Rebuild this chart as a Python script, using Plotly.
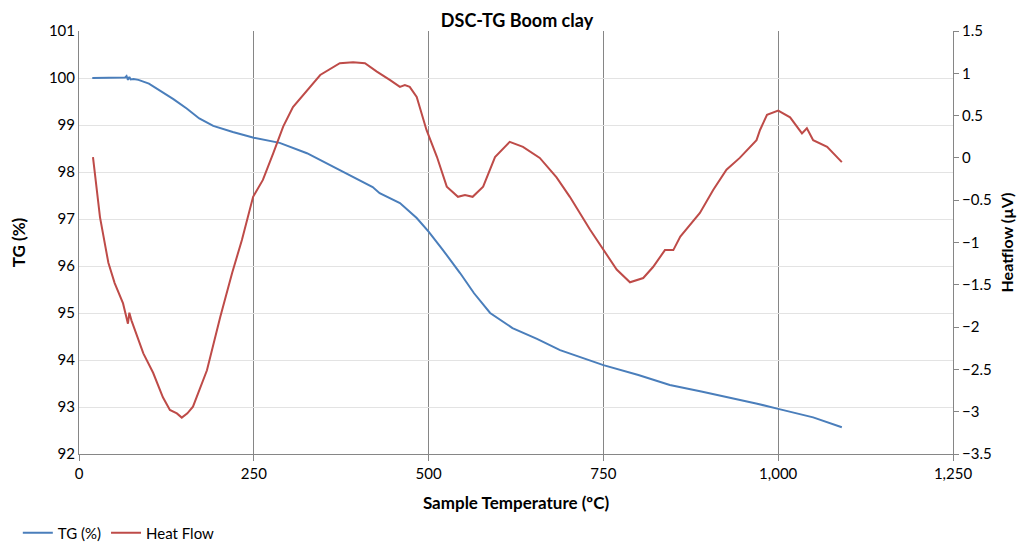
import plotly.graph_objects as go

# TG curve (left axis, %)
tg_temp = [19, 40, 60, 66, 68, 70, 72, 74, 78, 85, 100, 116, 135, 154, 172, 192, 220, 250, 287,
           326, 373, 420, 430, 459, 483, 500, 520, 545, 565, 588, 620, 655, 688, 720, 750, 800,
           845, 890, 935, 970, 1000, 1050, 1091]
tg_val = [100.0, 100.0, 100.0, 100.01, 100.04, 99.96, 100.02, 99.97, 99.98, 99.96, 99.88, 99.73,
          99.55, 99.35, 99.14, 98.98, 98.85, 98.73, 98.62, 98.40, 98.04, 97.68, 97.55, 97.34,
          97.02, 96.73, 96.35, 95.85, 95.42, 95.0, 94.68, 94.45, 94.21, 94.05, 93.89, 93.68,
          93.47, 93.33, 93.19, 93.07, 92.96, 92.78, 92.57]

# Heat flow curve (right axis, µV)
hf_temp = [20, 30, 42, 51, 63, 70, 72, 75, 92, 106, 120, 130, 140, 147, 155, 163, 183, 202, 219,
           233, 249, 263, 278, 292, 306, 326, 345, 373, 392, 409, 426, 445, 459, 466, 473, 483,
           497, 512, 526, 542, 552, 563, 578, 595, 616, 635, 659, 683, 702, 731, 750, 769, 788,
           807, 821, 838, 850, 860, 888, 907, 926, 945, 969, 974, 984, 1000, 1017, 1034, 1041,
           1050, 1070, 1080, 1091]
hf_val = [0.01, -0.70, -1.24, -1.48, -1.72, -1.96, -1.83, -1.92, -2.31, -2.54, -2.83, -2.98,
          -3.02, -3.07, -3.02, -2.94, -2.51, -1.88, -1.36, -0.97, -0.46, -0.26, 0.06, 0.37, 0.60,
          0.80, 0.98, 1.12, 1.13, 1.12, 1.02, 0.92, 0.84, 0.86, 0.84, 0.72, 0.33, 0.01, -0.34,
          -0.46, -0.44, -0.46, -0.34, 0.01, 0.19, 0.13, 0.0, -0.23, -0.46, -0.85, -1.09, -1.32,
          -1.47, -1.42, -1.29, -1.09, -1.09, -0.93, -0.65, -0.38, -0.14, 0.0, 0.21, 0.33, 0.51,
          0.56, 0.48, 0.29, 0.35, 0.21, 0.13, 0.05, -0.05]

x_ticks = [0, 250, 500, 750, 1000, 1250]
y_left_ticks = [92, 93, 94, 95, 96, 97, 98, 99, 100, 101]
y_right_ticks = [-3.5, -3, -2.5, -2, -1.5, -1, -0.5, 0, 0.5, 1, 1.5]

FONT = "Lato, 'Open Sans', sans-serif"

fig = go.Figure()
fig.add_trace(go.Scatter(x=tg_temp, y=tg_val, mode="lines", name="TG (%)",
                         line=dict(color="#4A7EBB", width=2)))
fig.add_trace(go.Scatter(x=hf_temp, y=hf_val, mode="lines", name="Heat Flow",
                         line=dict(color="#BE4B48", width=2), yaxis="y2"))

fig.update_layout(
    width=1018, height=535,
    paper_bgcolor="white", plot_bgcolor="white",
    margin=dict(l=71, r=73, t=23, b=89, autoexpand=False),
    font=dict(family=FONT, size=15, color="#000000"),
    title=dict(text="<b>DSC-TG Boom clay</b>", x=0.5, xanchor="center",
               yref="container", y=0.976, yanchor="middle",
               font=dict(size=18, family=FONT)),
    xaxis=dict(range=[0, 1250], tickvals=x_ticks, tickformat=",", showgrid=True,
               gridcolor="#868686", gridwidth=1, showline=True, linecolor="#868686",
               ticks="outside", ticklen=6, tickcolor="#868686", zeroline=False, automargin=False,
               title=dict(text="<b>Sample Temperature (ºC)</b>", font=dict(size=17), standoff=16)),
    yaxis=dict(range=[92, 101], tickvals=y_left_ticks, showgrid=True, gridcolor="#E3E3E3",
               showline=True, linecolor="#868686", zeroline=False, ticks="", automargin=False,
               title=dict(text="<b>TG (%)</b>", font=dict(size=17), standoff=19)),
    yaxis2=dict(range=[-3.5, 1.5], tickvals=y_right_ticks, overlaying="y", side="right",
                showgrid=False, showline=True, linecolor="#868686", zeroline=False,
                ticks="outside", ticklen=5, tickcolor="#868686", automargin=False,
                title=dict(text="<b>Heatflow (µV)</b>", font=dict(size=16), standoff=11)),
    legend=dict(orientation="h", x=-0.07, xanchor="left", y=-0.187, yanchor="middle",
                font=dict(size=15), itemwidth=30, tracegroupgap=0),
    showlegend=True,
)

fig.write_html("out.html")
